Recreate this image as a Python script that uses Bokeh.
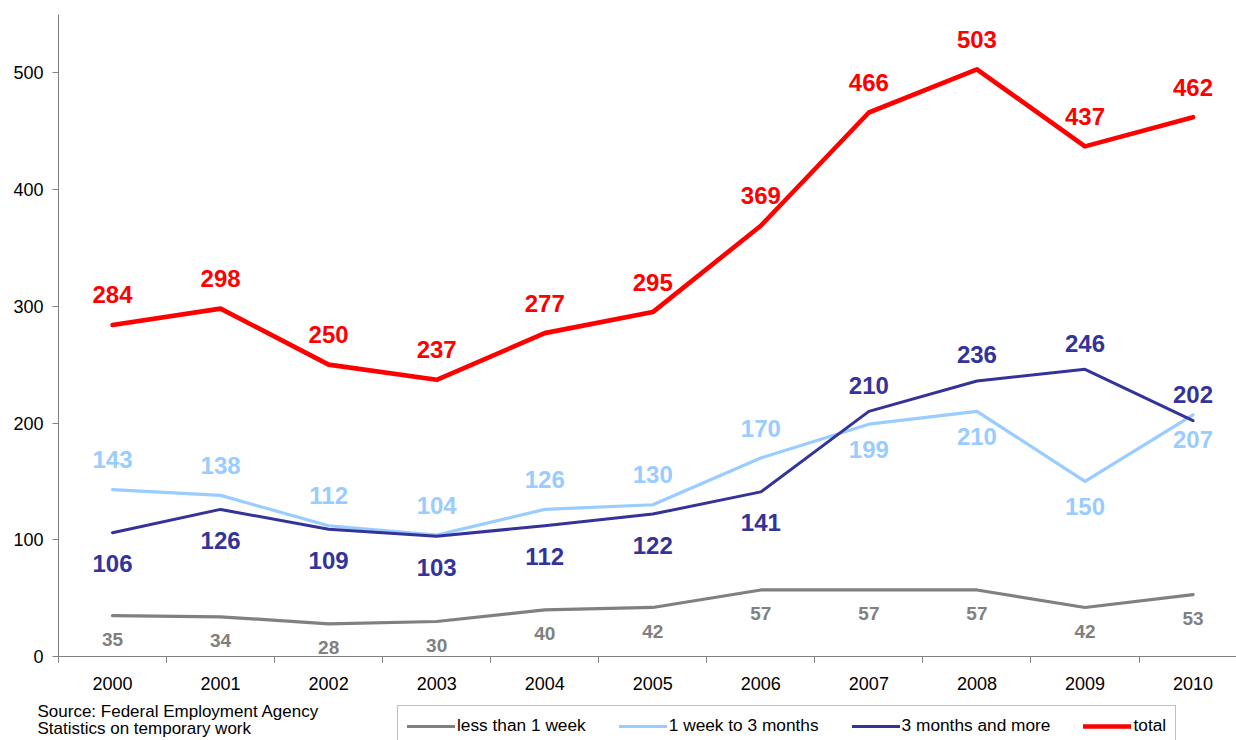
from bokeh.plotting import figure
from bokeh.models import ColumnDataSource, FixedTicker, Legend, LegendItem, Label, Range1d, LinearAxis
from bokeh.core.properties import value
from bokeh.embed import file_html
from bokeh.resources import INLINE

# ---- data ----
years = ["2000", "2001", "2002", "2003", "2004", "2005", "2006", "2007", "2008", "2009", "2010"]
less_1_week = [35, 34, 28, 30, 40, 42, 57, 57, 57, 42, 53]
week_to_3_months = [143, 138, 112, 104, 126, 130, 170, 199, 210, 150, 207]
months_3_and_more = [106, 126, 109, 103, 112, 122, 141, 210, 236, 246, 202]
total = [284, 298, 250, 237, 277, 295, 369, 466, 503, 437, 462]
y_ticks = [0, 100, 200, 300, 400, 500]
y_max = 550

series_names = ["less than 1 week", "1 week to 3 months", "3 months and more", "total"]
source_lines = ["Source: Federal Employment Agency", "Statistics on temporary work"]

# ---- styles ----
FONT = "Liberation Sans"
AXIS_COLOR = "#808080"
# label offsets: screen pixels from the point to the label centre (positive = down)
styles = [
    dict(values=less_1_week, color="#808080", width=3.2, size="19px",
         place=["below"] * 11, above=-24, below=24),
    dict(values=week_to_3_months, color="#99CCFF", width=3.2, size="24px",
         place=["above"] * 7 + ["below"] * 4, above=-30, below=25),
    dict(values=months_3_and_more, color="#333399", width=3.0, size="24px",
         place=["below"] * 7 + ["above"] * 4, above=-26, below=31),
    dict(values=total, color="#FF0000", width=4.6, size="24px",
         place=["above"] * 11, above=-30, below=30),
]

x = list(range(len(years)))
W, H = 1236, 740
px_per_cat = 108.05
px_per_unit = 1.1674
x_start = -0.5 - 58 / px_per_cat
y_start = -(H - 656) / px_per_unit

p = figure(width=W, height=H,
           x_range=Range1d(x_start, x_start + W / px_per_cat),
           y_range=Range1d(y_start, y_start + H / px_per_unit),
           x_axis_location=None, y_axis_location=None,
           output_backend="svg", toolbar_location=None,
           min_border=0, min_border_left=0, min_border_right=0,
           min_border_top=0, min_border_bottom=0)
p.outline_line_color = None
p.xgrid.visible = False
p.ygrid.visible = False
p.background_fill_color = "white"
p.border_fill_color = "white"

# y axis (drawn at the left edge of the first category slot)
yaxis = LinearAxis(fixed_location=-0.5, bounds=(0, y_max))
yaxis.ticker = FixedTicker(ticks=y_ticks)
yaxis.axis_line_color = AXIS_COLOR
yaxis.major_tick_line_color = AXIS_COLOR
yaxis.major_tick_out = 6
yaxis.major_tick_in = 0
yaxis.minor_tick_line_color = None
yaxis.major_label_text_font = FONT
yaxis.major_label_text_font_size = "18px"
yaxis.major_label_text_color = "black"
yaxis.major_label_standoff = 9
p.add_layout(yaxis, "left")

# x axis: labels at category centres, tick marks between categories
xaxis = LinearAxis(fixed_location=0, bounds=(-0.5, len(years) - 0.5))
xaxis.ticker = FixedTicker(ticks=x, minor_ticks=[i - 0.5 for i in range(len(years) + 1)])
xaxis.major_label_overrides = {i: years[i] for i in x}
xaxis.axis_line_color = AXIS_COLOR
xaxis.major_tick_line_color = None
xaxis.major_tick_out = 0
xaxis.major_tick_in = 0
xaxis.minor_tick_line_color = AXIS_COLOR
xaxis.minor_tick_out = 6
xaxis.minor_tick_in = 0
xaxis.major_label_text_font = FONT
xaxis.major_label_text_font_size = "18px"
xaxis.major_label_text_color = "black"
xaxis.major_label_standoff = 14
p.add_layout(xaxis, "below")

items = []
for name, st in zip(series_names, styles):
    vals = st["values"]
    yoff = [st["above"] if pl == "above" else st["below"] for pl in st["place"]]
    src = ColumnDataSource(dict(x=x, y=vals, label=[str(v) for v in vals], yoff=yoff))
    r = p.line("x", "y", source=src, line_color=st["color"], line_width=st["width"],
               line_join="round", line_cap="round")
    p.text(x="x", y="y", text="label", source=src, y_offset="yoff",
           text_align="center", text_baseline="middle",
           text_font=value(FONT), text_font_style="bold",
           text_font_size=st["size"], text_color=st["color"])
    items.append(LegendItem(label=name, renderers=[r]))

legend = Legend(items=items, orientation="horizontal",
                location=(397, -6),
                label_text_font=FONT, label_text_font_size="17.3px", label_text_color="black",
                glyph_width=48, glyph_height=18, label_height=18,
                label_standoff=2, spacing=33,
                padding=9, margin=0,
                border_line_color=AXIS_COLOR, border_line_width=1.5,
                background_fill_color="white", background_fill_alpha=1.0)
p.add_layout(legend, "center")

for i, line in enumerate(source_lines):
    p.add_layout(Label(x=37, y=29 - 17 * i, x_units="screen", y_units="screen",
                       text=line, text_font=FONT, text_font_size="17px",
                       text_color="black", text_baseline="middle"))

open("out.html", "w").write(file_html(p, INLINE))
